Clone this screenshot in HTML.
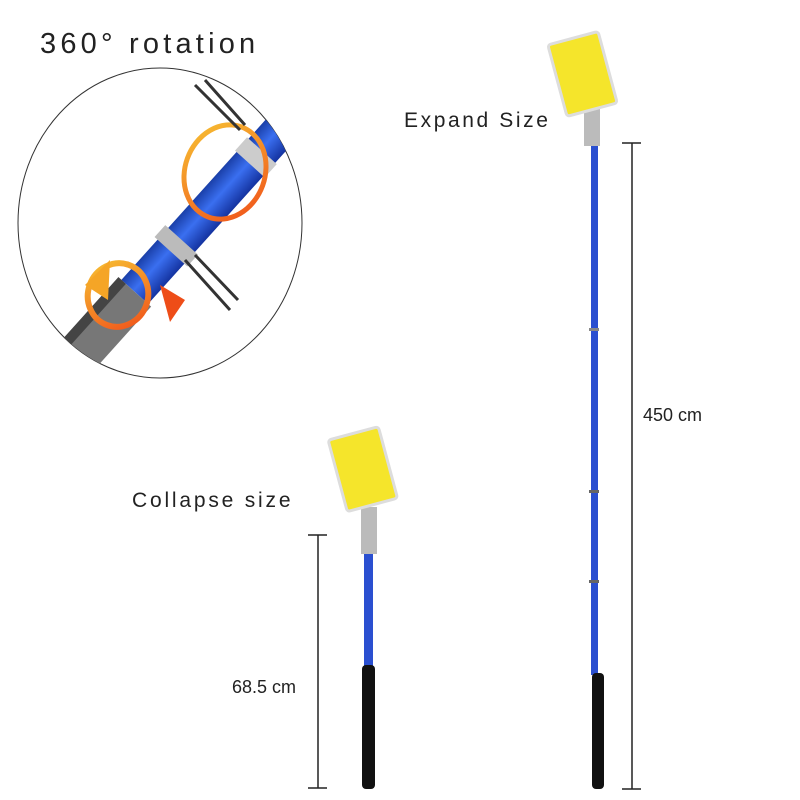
<!DOCTYPE html>
<html><head><meta charset="utf-8"><style>
body{margin:0;background:#fff;}
svg{display:block;}
text{font-family:"Liberation Sans",sans-serif;fill:#222;}
</style></head><body>
<svg width="800" height="800" viewBox="0 0 800 800" xmlns="http://www.w3.org/2000/svg">
<defs>
<linearGradient id="blue" x1="0" x2="1" y1="0" y2="0">
<stop offset="0" stop-color="#1a3fa8"/><stop offset="0.45" stop-color="#3a6ff0"/><stop offset="1" stop-color="#1433a0"/>
</linearGradient>
<linearGradient id="orng" x1="0" x2="1" y1="0" y2="1">
<stop offset="0" stop-color="#f7c233"/><stop offset="1" stop-color="#f0501a"/>
</linearGradient>
<clipPath id="cc"><ellipse cx="160" cy="223" rx="142" ry="155"/></clipPath>
</defs>
<text x="40" y="53" font-size="29" letter-spacing="4.2">360° rotation</text>
<text x="404" y="127" font-size="21" letter-spacing="2.6">Expand Size</text>
<text x="132" y="507" font-size="21" letter-spacing="2.8">Collapse size</text>
<text x="643" y="421" font-size="18">450 cm</text>
<text x="232" y="693" font-size="18">68.5 cm</text>

<!-- circle detail -->
<ellipse cx="160" cy="223" rx="142" ry="155" fill="none" stroke="#333" stroke-width="1"/>
<g clip-path="url(#cc)">
<g transform="translate(195,225) rotate(42)">
<rect x="-18" y="-200" width="36" height="290" fill="url(#blue)"/>
<rect x="-22" y="90" width="44" height="120" fill="#777"/>
<rect x="-22" y="90" width="10" height="120" fill="#444"/>
<rect x="-20" y="-100" width="40" height="18" fill="#ccc"/>
<rect x="-22" y="20" width="44" height="16" fill="#bbb"/>
</g>
<ellipse cx="225" cy="172" rx="40" ry="48" fill="none" stroke="url(#orng)" stroke-width="5" transform="rotate(20 225 172)"/>
<ellipse cx="118" cy="295" rx="30" ry="32" fill="none" stroke="url(#orng)" stroke-width="6" transform="rotate(20 118 295)"/>
<polygon points="85,285 110,260 108,300" fill="#f5a526"/>
<polygon points="160,285 185,300 170,322" fill="#ee4d18"/>
<path d="M195,85 L240,130 M205,80 L245,125" stroke="#333" stroke-width="3" fill="none"/>
<path d="M185,260 L230,310 M195,255 L238,300" stroke="#333" stroke-width="3" fill="none"/>
</g>

<!-- tall pole -->
<rect x="591" y="145" width="7" height="530" fill="#2a4fd0"/>
<rect x="589" y="328" width="10" height="3" fill="#888"/>
<rect x="589" y="490" width="10" height="3" fill="#666"/>
<rect x="589" y="580" width="10" height="3" fill="#666"/>
<rect x="592" y="673" width="12" height="116" rx="4" fill="#111"/>
<rect x="584" y="108" width="16" height="38" fill="#bbb"/>
<g transform="rotate(-15 582 72)"><rect x="556" y="37" width="52" height="74" rx="3" fill="#f5e52b" stroke="#ddd" stroke-width="3"/></g>
<line x1="632" y1="143" x2="632" y2="789" stroke="#222" stroke-width="1.5"/>
<line x1="622" y1="143" x2="641" y2="143" stroke="#222" stroke-width="1.5"/>
<line x1="622" y1="789" x2="641" y2="789" stroke="#222" stroke-width="1.5"/>

<!-- short pole -->
<rect x="364" y="552" width="9" height="116" fill="#2a4fd0"/>
<rect x="362" y="665" width="13" height="124" rx="4" fill="#111"/>
<rect x="361" y="507" width="16" height="47" fill="#bbb"/>
<g transform="rotate(-15 363 466)"><rect x="336" y="432" width="52" height="74" rx="3" fill="#f5e52b" stroke="#ddd" stroke-width="3"/></g>
<line x1="318" y1="535" x2="318" y2="788" stroke="#222" stroke-width="1.5"/>
<line x1="308" y1="535" x2="327" y2="535" stroke="#222" stroke-width="1.5"/>
<line x1="308" y1="788" x2="327" y2="788" stroke="#222" stroke-width="1.5"/>
</svg>
</body></html>
